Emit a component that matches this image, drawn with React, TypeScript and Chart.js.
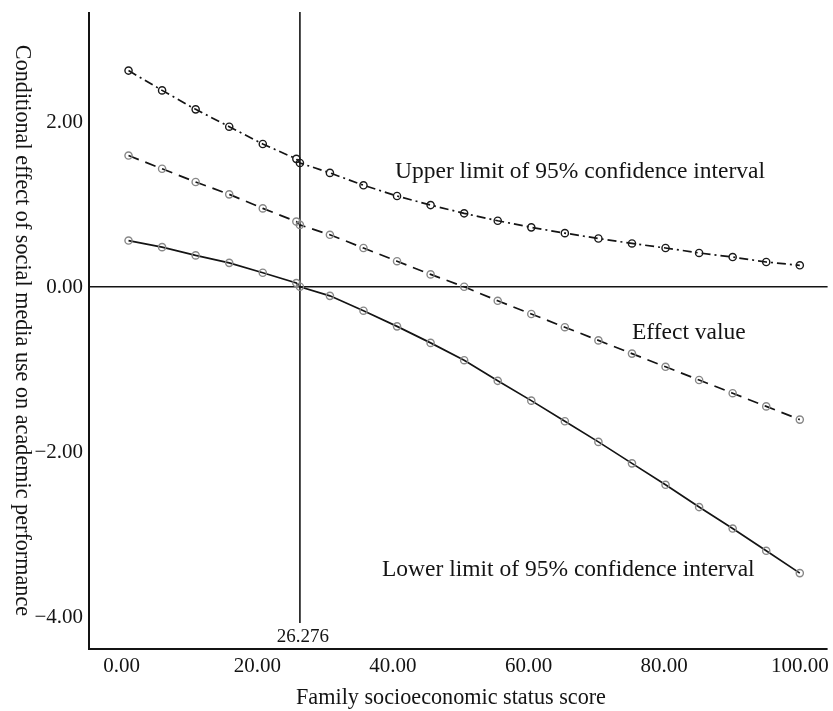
import React, { useEffect, useRef } from "react";
import { Chart, registerables } from "chart.js";

Chart.register(...registerables);

// ---- data ----
const xScores = [1, 5.95, 10.9, 15.85, 20.8, 25.75, 26.276, 30.7, 35.65, 40.6, 45.55, 50.5, 55.45, 60.4, 65.35, 70.3, 75.25, 80.2, 85.15, 90.1, 95.05, 100];
const upperLimit = [2.62, 2.38, 2.15, 1.94, 1.73, 1.55, 1.5, 1.38, 1.23, 1.1, 0.99, 0.89, 0.8, 0.72, 0.65, 0.585, 0.525, 0.47, 0.41, 0.36, 0.3, 0.26];
const effectValue = [1.59, 1.43, 1.27, 1.12, 0.95, 0.79, 0.75, 0.63, 0.47, 0.31, 0.15, 0.0, -0.17, -0.33, -0.49, -0.65, -0.81, -0.97, -1.13, -1.29, -1.45, -1.61];
const lowerLimit = [0.56, 0.48, 0.38, 0.29, 0.17, 0.045, 0, -0.11, -0.29, -0.48, -0.68, -0.89, -1.14, -1.38, -1.63, -1.88, -2.14, -2.4, -2.67, -2.93, -3.2, -3.47];
const xTicks = [0, 20, 40, 60, 80, 100];
const yTicks = [2, 0, -2, -4];
const jnPoint = 26.276;
const jnLabel = "26.276";
const xTitle = "Family socioeconomic status score";
const yTitle = "Conditional effect of social media use on academic performance";
const upperLabel = "Upper limit of 95% confidence interval";
const effectLabel = "Effect value";
const lowerLabel = "Lower limit of 95% confidence interval";

const X_MIN = -4.83;
const X_MAX = 104.1;
const Y_MIN = -4.39;
const Y_MAX = 3.33;

const SERIF = '"Liberation Serif", "Times New Roman", serif';
const INK = "#141414";

const fmt = (v: number) => (v < 0 ? "\u2212" : "") + Math.abs(v).toFixed(2);
const pts = (ys: number[]) => xScores.map((x, i) => ({ x, y: ys[i] }));

const decor = {
  id: "decor",
  beforeDatasetsDraw(chart: any) {
    const { ctx, chartArea: a, scales } = chart;
    const x = scales.x;
    const y = scales.y;
    ctx.save();
    ctx.strokeStyle = INK;
    // zero reference line
    ctx.lineWidth = 1.6;
    const y0 = y.getPixelForValue(0);
    ctx.beginPath();
    ctx.moveTo(a.left, y0);
    ctx.lineTo(a.right, y0);
    ctx.stroke();
    // Johnson-Neyman line
    const xj = x.getPixelForValue(jnPoint);
    ctx.beginPath();
    ctx.moveTo(xj, a.top);
    ctx.lineTo(xj, a.bottom - 26);
    ctx.stroke();
    // axes
    ctx.lineWidth = 2;
    ctx.beginPath();
    ctx.moveTo(a.left, a.top);
    ctx.lineTo(a.left, a.bottom);
    ctx.lineTo(a.right, a.bottom);
    ctx.stroke();

    ctx.fillStyle = INK;
    // y tick labels
    ctx.font = `21px ${SERIF}`;
    ctx.textAlign = "right";
    ctx.textBaseline = "middle";
    yTicks.forEach((v) => ctx.fillText(fmt(v), a.left - 6, y.getPixelForValue(v) + 1));
    // x tick labels
    ctx.textAlign = "center";
    xTicks.forEach((v) => ctx.fillText(fmt(v), x.getPixelForValue(v), a.bottom + 17));
    // JN label
    ctx.font = `19px ${SERIF}`;
    ctx.fillText(jnLabel, xj + 3, a.bottom - 12);
    // annotations
    ctx.font = `23.5px ${SERIF}`;
    ctx.textAlign = "left";
    ctx.fillText(upperLabel, 395, 172);
    ctx.fillText(effectLabel, 632, 333);
    ctx.fillText(lowerLabel, 382, 570);
    // axis titles
    ctx.font = `22.2px ${SERIF}`;
    ctx.textAlign = "center";
    ctx.fillText(xTitle, 451, 698);
    ctx.translate(22, (a.top + a.bottom) / 2);
    ctx.rotate(Math.PI / 2);
    ctx.fillText(yTitle, 0, 0);
    ctx.restore();
  },
};

export default function App() {
  const ref = useRef<HTMLCanvasElement | null>(null);
  useEffect(() => {
    if (!ref.current) return;
    const common = {
      borderColor: INK,
      borderWidth: 1.7,
      pointRadius: 3.6,
      pointBorderWidth: 1.4,
      pointBackgroundColor: "rgba(0,0,0,0)",
      fill: false,
      tension: 0,
    };
    const chart = new Chart(ref.current, {
      type: "line",
      data: {
        datasets: [
          { ...common, label: upperLabel, data: pts(upperLimit), borderDash: [9, 4, 2, 4], pointBorderColor: "#1a1a1a" },
          { ...common, label: effectLabel, data: pts(effectValue), borderDash: [11, 7], pointBorderColor: "#888888" },
          { ...common, label: lowerLabel, data: pts(lowerLimit), pointBorderColor: "#888888" },
        ],
      },
      options: {
        responsive: false,
        animation: false,
        layout: { padding: { left: 89, top: 12, right: 0, bottom: 62 } },
        plugins: { legend: { display: false }, tooltip: { enabled: false } },
        scales: {
          x: { type: "linear", min: X_MIN, max: X_MAX, display: false },
          y: { type: "linear", min: Y_MIN, max: Y_MAX, display: false },
        },
      },
      plugins: [decor],
    } as any);
    return () => chart.destroy();
  }, []);
  return (
    <div style={{ position: "fixed", left: 0, top: 0, width: 833, height: 711, background: "#fff" }}>
      <canvas ref={ref} width={833} height={711} style={{ width: 833, height: 711, display: "block" }} />
    </div>
  );
}
